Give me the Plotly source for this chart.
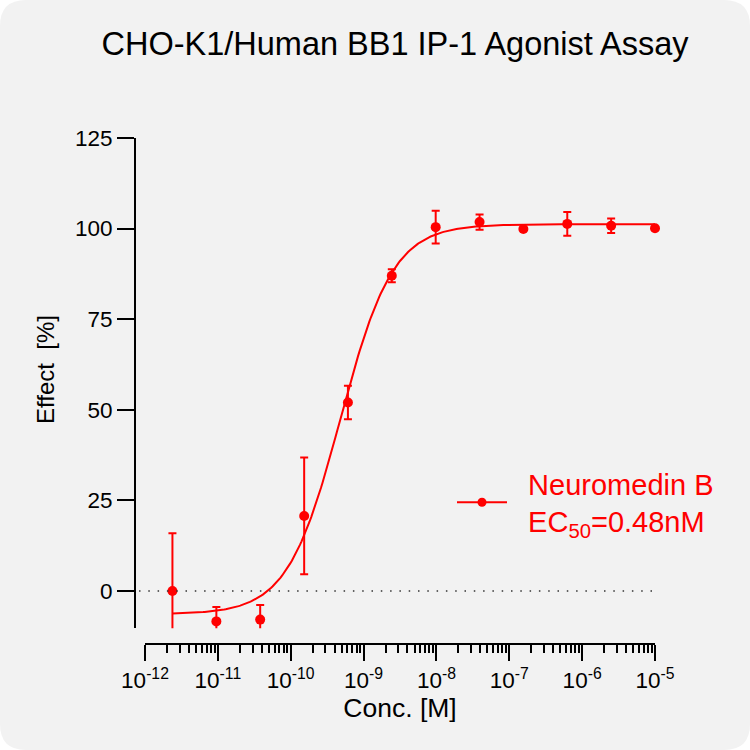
import numpy as np
import plotly.graph_objects as go

# concentrations (M), 4-fold dilution series
conc = [2.38e-12, 9.54e-12, 3.81e-11, 1.53e-10, 6.10e-10, 2.44e-9,
        9.77e-9, 3.91e-8, 1.56e-7, 6.25e-7, 2.5e-6, 1e-5]
effect = [0.0, -8.4, -7.9, 20.7, 52.0, 87.0, 100.4, 101.8, 99.9, 101.3, 100.8, 100.1]
err = [15.9, 4.0, 4.0, 16.1, 4.6, 1.8, 4.5, 2.1, 0.0, 3.3, 2.0, 0.0]

# 4PL fit parameters
fit_bottom = -6.4
fit_top = 101.2
fit_logec50 = np.log10(0.48e-9)
fit_hill = 1.2

xtick_vals = [1e-12, 1e-11, 1e-10, 1e-9, 1e-8, 1e-7, 1e-6, 1e-5]
xtick_text = ["10<sup>-12</sup>", "10<sup>-11</sup>", "10<sup>-10</sup>", "10<sup>-9</sup>",
              "10<sup>-8</sup>", "10<sup>-7</sup>", "10<sup>-6</sup>", "10<sup>-5</sup>"]
ytick_vals = [0, 25, 50, 75, 100, 125]

RED = "#ff0000"
FONT = "Liberation Sans, Arial, sans-serif"

# plot area in pixels
L, R, T, B = 135, 655, 138, 644
W, H = R - L, B - T


def px(X):
    return (X - L) / W


def py(Y):
    return (B - Y) / H


lx = np.logspace(np.log10(conc[0]), np.log10(conc[-1]), 300)
curve = fit_bottom + (fit_top - fit_bottom) / (1 + 10 ** ((fit_logec50 - np.log10(lx)) * fit_hill))

fig = go.Figure()

fig.add_trace(go.Scatter(
    x=lx, y=curve, mode="lines", line=dict(color=RED, width=2),
    showlegend=False, hoverinfo="skip"))

# error bars (clipped to plot area)
fig.add_trace(go.Scatter(
    x=conc, y=effect, mode="markers",
    marker=dict(size=1, color="rgba(0,0,0,0)"),
    error_y=dict(type="data", array=err, color=RED, thickness=2, width=4),
    cliponaxis=True, showlegend=False))

fig.add_trace(go.Scatter(
    x=conc, y=effect, mode="markers",
    marker=dict(size=10, color=RED),
    cliponaxis=False, showlegend=False))

# legend entry
fig.add_trace(go.Scatter(
    x=[None], y=[None], mode="lines+markers",
    line=dict(color=RED, width=2), marker=dict(size=9, color=RED),
    name="\u00a0\u00a0Neuromedin B<br>\u00a0\u00a0EC<sub>50</sub>=0.48nM"))

# rounded background panel
r = 26
x0, x1, y0, y1 = 0, 750, 0, 750
path = (f"M {px(x0 + r)},{py(y0)} L {px(x1 - r)},{py(y0)} "
        f"Q {px(x1)},{py(y0)} {px(x1)},{py(y0 + r)} "
        f"L {px(x1)},{py(y1 - r)} Q {px(x1)},{py(y1)} {px(x1 - r)},{py(y1)} "
        f"L {px(x0 + r)},{py(y1)} Q {px(x0)},{py(y1)} {px(x0)},{py(y1 - r)} "
        f"L {px(x0)},{py(y0 + r)} Q {px(x0)},{py(y0)} {px(x0 + r)},{py(y0)} Z")
fig.add_shape(type="path", path=path, xref="paper", yref="paper",
              fillcolor="#f2f2f2", line=dict(width=0), layer="below")

# dotted zero line
fig.add_shape(type="line", xref="paper", yref="y", x0=px(139), x1=px(653), y0=0, y1=0,
              line=dict(color="#333333", width=1.5, dash="1.5px,7.8px"))

# y axis title
fig.add_annotation(text="Effect\u00a0\u00a0[%]", textangle=-90, xref="paper", yref="paper",
                   x=px(45), y=py(370), showarrow=False, xanchor="center", yanchor="middle",
                   font=dict(size=24, color="black"))

minor_vals = [k * 10.0 ** d for d in range(-12, -5) for k in range(2, 10)]

fig.update_layout(
    width=750, height=750,
    margin=dict(l=L, r=750 - R, t=T, b=750 - B),
    paper_bgcolor="white", plot_bgcolor="rgba(0,0,0,0)",
    font=dict(family=FONT, color="black"),
    title=dict(text="CHO-K1/Human BB1 IP-1 Agonist Assay", x=0.5, xref="paper",
               y=1 - 44 / 750, yanchor="middle", font=dict(size=32.5, color="black")),
    xaxis=dict(
        type="log", range=[-12, -5], domain=[px(145), 1], anchor="free", position=0,
        showline=True, linecolor="black", linewidth=2, showgrid=False, zeroline=False,
        ticks="outside", ticklen=16, tickwidth=2, tickcolor="black",
        tickvals=xtick_vals, ticktext=xtick_text, tickfont=dict(size=22.5),
        minor=dict(tickvals=minor_vals, ticks="outside", ticklen=8, tickwidth=2,
                   tickcolor="black", showgrid=False),
        title=dict(text="Conc. [M]", font=dict(size=26.5), standoff=2)),
    yaxis=dict(
        range=[-10.3, 125], domain=[py(628.3), 1], anchor="free", position=0,
        showline=True, linecolor="black", linewidth=2, showgrid=False, zeroline=False,
        ticks="outside", ticklen=17, tickwidth=2, tickcolor="black",
        tickvals=ytick_vals, tickfont=dict(size=22.5)),
    legend=dict(x=px(452), y=py(458), xanchor="left", yanchor="top",
                font=dict(size=29, color=RED, family=FONT), bgcolor="rgba(0,0,0,0)",
                itemwidth=50),
)

fig.write_html("out.html", config={"displayModeBar": False},
               post_script="document.body.style.margin='0px';")
